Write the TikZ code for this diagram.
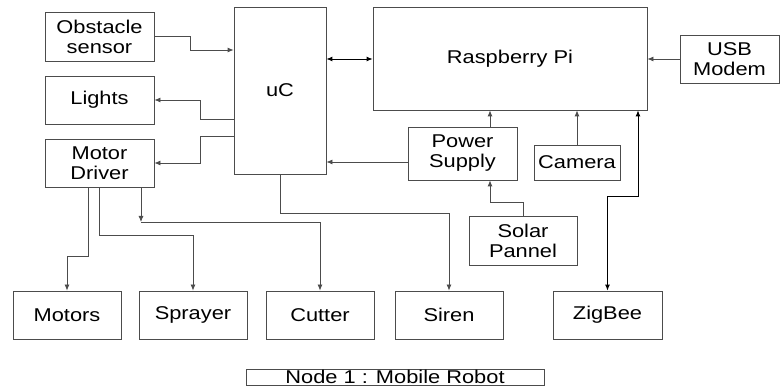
\documentclass[tikz,border=0pt]{standalone}
\usepackage{fontspec}
\setmainfont{Liberation Sans}[FakeStretch=1.18]
\usepackage{tikz}
\usetikzlibrary{calc,positioning,arrows.meta}

\tikzset{
	blk/.style={draw=black!70, line width=.8pt, rectangle, inner sep=0pt, align=center, font=\fontsize{18.5}{20}\selectfont},
	conn/.style={draw=black!70, line width=.8pt, -{Latex[length=6pt,width=5pt]}},
	bidir/.style={draw=black, line width=.9pt, {Latex[length=6pt,width=5pt]}-{Latex[length=6pt,width=5pt]}}
}

\begin{document}
\begin{tikzpicture}[x=1pt,y=-1pt]
		\useasboundingbox (0,0) rectangle (780,387);

		\node[blk, minimum width=109pt, minimum height=49pt] (obs) at (99.5,36.5) {Obstacle\\sensor};
		\node[blk, minimum width=109pt, minimum height=48pt] (lights) at (99.5,100) {Lights};
		\node[blk, minimum width=109pt, minimum height=48pt] (md) at (99.5,163) {Motor\\Driver};
		\node[blk, minimum width=92pt, minimum height=167pt] (uc) at (280,90.5) {uC};
		\node[blk, minimum width=274pt, minimum height=103pt] (rpi) at (510,58.5) {Raspberry Pi};
		\node[blk, minimum width=99pt, minimum height=48pt] (usb) at (729.5,59) {USB\\Modem};
		\node[blk, minimum width=109pt, minimum height=53pt] (ps) at (462.5,153.5) {Power\\Supply};
		\node[blk, minimum width=86pt, minimum height=35pt] (cam) at (577,162.5) {Camera};
		\node[blk, minimum width=108pt, minimum height=49pt] (solar) at (523,240.5) {Solar\\Pannel};

		\node[blk, minimum width=108pt, minimum height=48pt] (motors) at (67,315) {Motors};
		\node[blk, minimum width=108pt, minimum height=48pt] (sprayer) at (193,315) {Sprayer};
		\node[blk, minimum width=108pt, minimum height=48pt] (cutter) at (320,315) {Cutter};
		\node[blk, minimum width=108pt, minimum height=48pt] (siren) at (449,315) {Siren};
		\node[blk, minimum width=109pt, minimum height=48pt] (zigbee) at (607.5,315) {ZigBee};

		\node[blk, minimum width=298pt, minimum height=16pt, text depth=0pt, text height=13pt] (title) at (395,377) {Node 1 : Mobile Robot};

		% uC side
		\draw[conn] (obs.east) -- (190,36.5) |- (uc.west |- 0,50);
		\draw[conn] (uc.west |- 0,119) -- (200,119) |- (lights.east);
		\draw[conn] (uc.west |- 0,136) -- (200,136) |- (md.east);
		\draw[bidir] (uc.east |- 0,59) -- (rpi.west |- 0,59);
		\draw[conn] (ps.west |- 0,162) -- (uc.east |- 0,162);
		\draw[conn] (uc.south -| 280,0) -- (280,213) -| (siren.north);

		% Raspberry Pi side
		\draw[conn] (ps.north -| 490,0) -- (rpi.south -| 490,0);
		\draw[conn] (cam.north) -- (rpi.south -| cam.north);
		\draw[conn] (usb.west) -- (rpi.east |- usb.west);
		\draw[conn] (solar.north) -- (523,202) -| (ps.south -| 490,0);
		\draw[bidir] (rpi.south -| 638,0) -- (638,196) -| (zigbee.north);

		% motor driver outputs
		\coordinate (split) at (141,222);
		\draw[conn] (md.south -| 88,0) -- (88,256) -| (motors.north);
		\draw[conn] (md.south -| 99,0) -- (99,235) -| (sprayer.north);
		\draw[conn] (md.south -| split) -- (split);
		\draw[conn] (split) -| (cutter.north);
	\end{tikzpicture}
\end{document}
